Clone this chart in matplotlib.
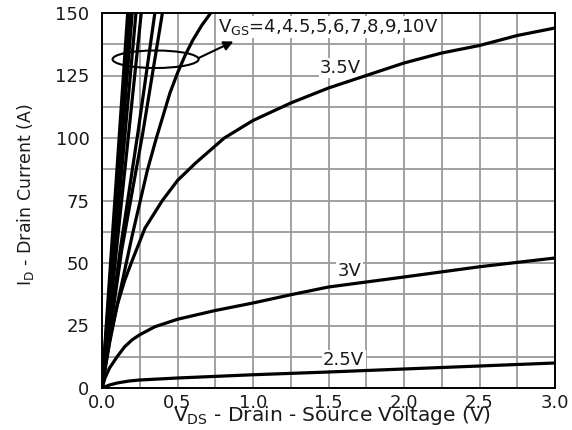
import numpy as np
import matplotlib.pyplot as plt
from matplotlib.patches import Ellipse
from matplotlib.ticker import MultipleLocator

plt.rcParams['font.family'] = ['DejaVu Sans']
plt.rcParams['mathtext.fontset'] = 'dejavusans'

# (V_DS in V, I_D in A)
v_10 = [0.0, 0.17]
i_10 = [0, 150]
v_9 = [0.0, 0.185]
i_9 = [0, 150]
v_8 = [0.0, 0.20]
i_8 = [0, 150]
v_7 = [0.0, 0.225]
i_7 = [0, 150]
v_6 = [0.0, 0.26]
i_6 = [0, 150]
v_5 = [0.0, 0.12, 0.24, 0.35]
i_5 = [0, 55, 103, 150]
v_45 = [0.0, 0.13, 0.27, 0.40]
i_45 = [0, 55, 102, 150]
v_4 = [0.0, 0.05, 0.1, 0.15, 0.2, 0.25, 0.3, 0.36, 0.4, 0.45, 0.5, 0.55,
       0.6, 0.66, 0.72]
i_4 = [0, 18, 33, 47, 61, 74, 87, 100, 108, 118, 126, 133, 139, 145, 150]
v_35 = [0.0, 0.03, 0.06, 0.1, 0.15, 0.2, 0.285, 0.4, 0.5, 0.62, 0.81, 1.0,
        1.25, 1.5, 1.75, 2.0, 2.25, 2.5, 2.75, 3.0]
i_35 = [0, 12, 22, 33, 43, 51, 64, 75, 83, 90, 100, 107, 114, 120, 125,
        130, 134, 137, 141, 144]
v_3 = [0.0, 0.02, 0.05, 0.1, 0.15, 0.2, 0.25, 0.35, 0.5, 0.75, 1.0, 1.25,
       1.5, 2.0, 2.5, 3.0]
i_3 = [0, 4, 8, 12.5, 16.5, 19.3, 21.3, 24.5, 27.5, 31, 34, 37.3, 40.4,
       44.4, 48.5, 52]
v_25 = [0.0, 0.05, 0.1, 0.18, 0.25, 0.5, 1.0, 1.5, 2.0, 2.5, 3.0]
i_25 = [0, 1.2, 2, 2.8, 3.2, 4, 5.3, 6.4, 7.6, 8.8, 10]

curves = [(v_10, i_10), (v_9, i_9), (v_8, i_8), (v_7, i_7), (v_6, i_6),
          (v_5, i_5), (v_45, i_45), (v_4, i_4), (v_35, i_35),
          (v_3, i_3), (v_25, i_25)]

fig = plt.figure(figsize=(5.72, 4.30), dpi=100)
ax = fig.add_axes([102/572, 42/430, 453/572, 375/430])

for v, i in curves:
    ax.plot(v, i, color="black", lw=2.3, zorder=4, solid_joinstyle="round")

ax.set_xlim(0, 3.0)
ax.set_ylim(0, 150)
ax.xaxis.set_major_locator(MultipleLocator(0.5))
ax.xaxis.set_minor_locator(MultipleLocator(0.25))
ax.yaxis.set_major_locator(MultipleLocator(25))
ax.yaxis.set_minor_locator(MultipleLocator(12.5))
ax.xaxis.set_major_formatter(lambda x, p: "%.1f" % x)
ax.grid(True, which="both", color="#9a9a9a", lw=1.3, zorder=1)
ax.set_axisbelow(True)
ax.tick_params(which="both", length=0, labelsize=13, colors="#1a1a1a")
ax.tick_params(axis="y", pad=9)
ax.tick_params(axis="x", pad=4)
for s in ax.spines.values():
    s.set_linewidth(1.4)
    s.set_color("black")
    s.set_zorder(5)

box = dict(facecolor="white", edgecolor="none", pad=1)
ax.text(1.58, 128, "3.5V", fontsize=13, ha="center", va="center",
        color="#1a1a1a", bbox=box, zorder=3)
ax.text(1.64, 47, "3V", fontsize=13, ha="center", va="center",
        color="#1a1a1a", bbox=box, zorder=3)
ax.text(1.60, 11.2, "2.5V", fontsize=13, ha="center", va="center",
        color="#1a1a1a", bbox=box, zorder=3)
ax.text(0.77, 142.4, "V$_{\\mathrm{GS}}$=4,4.5,5,6,7,8,9,10V", fontsize=13,
        ha="left", va="baseline", color="#1a1a1a", bbox=box, zorder=3)

ax.add_patch(Ellipse((0.355, 131.5), 0.57, 7, fill=False, lw=1.5,
                     color="black", zorder=5))
ax.annotate("", xy=(0.87, 138.6), xytext=(0.64, 132),
            arrowprops=dict(arrowstyle="-|>", color="black", lw=1.5,
                            mutation_scale=14, shrinkA=0, shrinkB=0),
            zorder=5)

fig.text(332/572, 9/430, "V$_{\\mathrm{DS}}$ - Drain - Source Voltage (V)",
         fontsize=14.5, ha="center", va="baseline", color="#1a1a1a")
fig.text(26/572, (430-195)/430, "I$_{\\mathrm{D}}$ - Drain Current (A)",
         fontsize=12.5, rotation=90, ha="center", va="center", color="#1a1a1a")

fig.savefig("out.png", dpi=100, facecolor="white")
